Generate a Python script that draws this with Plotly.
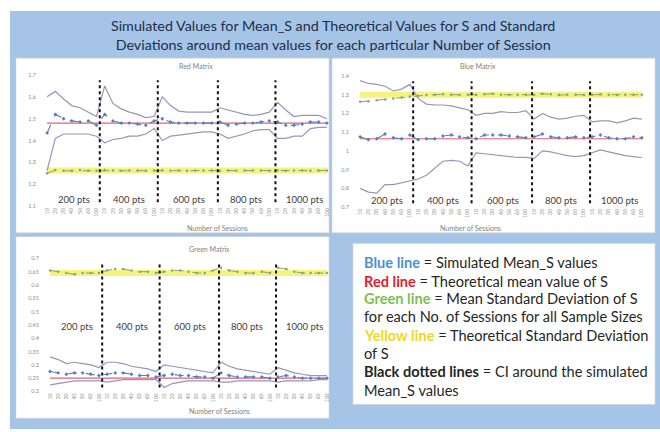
import plotly.graph_objects as go

W, H = 660, 432

# ---------------- data ----------------
session_labels = ["10", "20", "30", "40", "50", "60", "100"]
group_labels = ["200 pts", "400 pts", "600 pts", "800 pts", "1000 pts"]
tick_labels = session_labels * 5
x_idx = list(range(len(tick_labels)))

# Red matrix
red_mean = [1.435, 1.52, 1.50, 1.49, 1.485, 1.49, 1.47,
            1.52, 1.49, 1.48, 1.48, 1.475, 1.47, 1.49,
            1.50, 1.485, 1.48, 1.48, 1.48, 1.48, 1.48,
            1.485, 1.47, 1.475, 1.48, 1.48, 1.485, 1.49,
            1.485, 1.47, 1.47, 1.475, 1.485, 1.485, 1.48]
red_upper = [1.60, 1.625, 1.59, 1.56, 1.55, 1.53, 1.51,
             1.65, 1.57, 1.545, 1.53, 1.52, 1.505, 1.51,
             1.60, 1.56, 1.535, 1.53, 1.53, 1.53, 1.53,
             1.55, 1.54, 1.53, 1.52, 1.515, 1.52, 1.53,
             1.575, 1.54, 1.51, 1.515, 1.515, 1.515, 1.50]
red_lower = [1.263, 1.41, 1.43, 1.43, 1.43, 1.43, 1.42,
             1.39, 1.405, 1.41, 1.42, 1.42, 1.43, 1.455,
             1.40, 1.42, 1.425, 1.43, 1.435, 1.44, 1.44,
             1.43, 1.41, 1.42, 1.43, 1.445, 1.45, 1.45,
             1.41, 1.41, 1.42, 1.42, 1.455, 1.46, 1.46]
red_sd = [1.25, 1.265, 1.262, 1.262, 1.265, 1.262, 1.262,
          1.265, 1.263, 1.262, 1.263, 1.263, 1.262, 1.263,
          1.264, 1.262, 1.263, 1.262, 1.263, 1.263, 1.263,
          1.262, 1.263, 1.262, 1.263, 1.263, 1.263, 1.262,
          1.264, 1.262, 1.263, 1.263, 1.262, 1.263, 1.263]
red_theo_mean = 1.48
red_theo_sd = 1.263

# Blue matrix
blue_mean = [1.075, 1.06, 1.065, 1.09, 1.07, 1.065, 1.085,
             1.06, 1.065, 1.065, 1.08, 1.085, 1.075, 1.07,
             1.065, 1.085, 1.085, 1.085, 1.08, 1.075, 1.07,
             1.075, 1.09, 1.075, 1.07, 1.07, 1.075, 1.07,
             1.075, 1.085, 1.07, 1.065, 1.065, 1.075, 1.07]
blue_upper = [1.375, 1.36, 1.355, 1.345, 1.32, 1.33, 1.355,
              1.28, 1.25, 1.245, 1.245, 1.24, 1.23, 1.22,
              1.19, 1.20, 1.20, 1.21, 1.205, 1.205, 1.215,
              1.17, 1.20, 1.18, 1.17, 1.175, 1.185, 1.19,
              1.155, 1.16, 1.16, 1.15, 1.16, 1.175, 1.17]
blue_lower = [0.80, 0.78, 0.775, 0.82, 0.82, 0.83, 0.84,
              0.85, 0.87, 0.91, 0.945, 0.95, 0.945, 0.92,
              0.99, 0.985, 0.98, 0.975, 0.97, 0.965, 0.965,
              0.96, 1.00, 0.995, 0.985, 0.975, 0.97, 0.975,
              0.99, 1.005, 0.995, 0.985, 0.975, 0.97, 0.965]
blue_sd = [1.262, 1.265, 1.27, 1.275, 1.28, 1.285, 1.29,
           1.295, 1.298, 1.30, 1.302, 1.30, 1.298, 1.30,
           1.30, 1.302, 1.305, 1.30, 1.298, 1.30, 1.30,
           1.298, 1.305, 1.302, 1.298, 1.30, 1.30, 1.298,
           1.30, 1.302, 1.30, 1.298, 1.30, 1.30, 1.30]
blue_theo_mean = 1.065
blue_theo_sd = 1.30

# Green matrix
green_mean = [0.275, 0.27, 0.265, 0.27, 0.27, 0.265, 0.26,
              0.265, 0.27, 0.27, 0.265, 0.26, 0.26, 0.255,
              0.26, 0.265, 0.26, 0.26, 0.255, 0.255, 0.25,
              0.27, 0.26, 0.255, 0.255, 0.255, 0.255, 0.25,
              0.255, 0.26, 0.255, 0.25, 0.25, 0.25, 0.25]
green_upper = [0.33, 0.32, 0.305, 0.31, 0.305, 0.30, 0.29,
               0.31, 0.31, 0.305, 0.295, 0.29, 0.285, 0.275,
               0.30, 0.295, 0.29, 0.285, 0.28, 0.275, 0.27,
               0.31, 0.295, 0.285, 0.28, 0.275, 0.27, 0.265,
               0.29, 0.28, 0.27, 0.265, 0.26, 0.26, 0.26]
green_lower = [0.225, 0.23, 0.235, 0.24, 0.24, 0.24, 0.24,
               0.235, 0.24, 0.245, 0.245, 0.245, 0.245, 0.245,
               0.215, 0.23, 0.235, 0.24, 0.24, 0.24, 0.24,
               0.235, 0.235, 0.24, 0.24, 0.24, 0.24, 0.24,
               0.235, 0.24, 0.24, 0.24, 0.24, 0.245, 0.245]
green_sd = [0.655, 0.65, 0.645, 0.64, 0.645, 0.645, 0.645,
            0.655, 0.66, 0.66, 0.655, 0.65, 0.65, 0.645,
            0.65, 0.655, 0.655, 0.65, 0.645, 0.645, 0.655,
            0.665, 0.655, 0.65, 0.645, 0.645, 0.65, 0.645,
            0.665, 0.66, 0.65, 0.645, 0.645, 0.645, 0.645]
green_theo_mean = 0.25
green_theo_sd = 0.645

# ---------------- styling ----------------
FONT = "Lato"
C_FRAME = "#a6c5e6"
C_CI = "#9a94b8"
C_MEAN = "#5b7fb8"
C_THEO_MEAN = "#e0607e"
C_SD = "#8ea07a"
C_YELLOW = "rgba(238,238,70,0.7)"


def fx(px):
    return px / W


def fy(py):
    return 1 - py / H


panels = [
    dict(title="Red Matrix", mean=red_mean, upper=red_upper, lower=red_lower, sd=red_sd,
         tm=red_theo_mean, tsd=red_theo_sd, ax="", xd=(43, 331), yd=(73, 206),
         yr=(1.1, 1.7), dt=0.1, tpos=(177, 64), xtpos=(185, 228), lab_y=1.13),
    dict(title="Blue Matrix", mean=blue_mean, upper=blue_upper, lower=blue_lower, sd=blue_sd,
         tm=blue_theo_mean, tsd=blue_theo_sd, ax="2", xd=(356, 646), yd=(74, 207),
         yr=(0.7, 1.4), dt=0.1, tpos=(498, 64), xtpos=(503, 228), lab_y=0.735),
    dict(title="Green Matrix", mean=green_mean, upper=green_upper, lower=green_lower, sd=green_sd,
         tm=green_theo_mean, tsd=green_theo_sd, ax="3", xd=(46, 331), yd=(259, 394),
         yr=(0.2, 0.7), dt=0.05, tpos=(187, 249), xtpos=(187, 414), lab_y=0.445),
]

separator_x = [6.4, 13.45, 20.75, 27.75]
label_x = [3.3, 10.0, 17.2, 24.2, 31.3]

fig = go.Figure()
shapes = []
annotations = []

# background frame and panels
shapes.append(dict(type="rect", xref="paper", yref="paper", x0=fx(10), x1=fx(660),
                   y0=fy(432), y1=fy(8), fillcolor=C_FRAME, line=dict(width=0), layer="below"))
for (x0, x1, y0, y1) in [(16, 329, 56, 233), (332, 655, 56, 233), (16, 329, 237, 421),
                         (353, 655, 244, 407)]:
    shapes.append(dict(type="rect", xref="paper", yref="paper", x0=fx(x0), x1=fx(x1),
                       y0=fy(y1), y1=fy(y0), fillcolor="white",
                       line=dict(width=0.6, color="#d9d9d9"), layer="below"))

layout_axes = {}
for p in panels:
    xa = "x" + p["ax"]
    ya = "y" + p["ax"]
    n = len(x_idx)
    fig.add_trace(go.Scatter(x=x_idx, y=[p["tsd"]] * n, mode="lines", xaxis=xa, yaxis=ya,
                             line=dict(color=C_YELLOW, width=6), showlegend=False,
                             name="Theoretical SD"))
    fig.add_trace(go.Scatter(x=x_idx, y=p["upper"], mode="lines", xaxis=xa, yaxis=ya,
                             line=dict(color=C_CI, width=1.2), showlegend=False, name="Upper CI"))
    fig.add_trace(go.Scatter(x=x_idx, y=p["lower"], mode="lines", xaxis=xa, yaxis=ya,
                             line=dict(color=C_CI, width=1.2), showlegend=False, name="Lower CI"))
    fig.add_trace(go.Scatter(x=x_idx, y=[p["tm"]] * n, mode="lines", xaxis=xa, yaxis=ya,
                             line=dict(color=C_THEO_MEAN, width=1.2), showlegend=False,
                             name="Theoretical mean"))
    fig.add_trace(go.Scatter(x=x_idx, y=p["sd"], mode="lines+markers", xaxis=xa, yaxis=ya,
                             line=dict(color=C_SD, width=1, dash="dash"),
                             marker=dict(size=2.5, color=C_SD), showlegend=False,
                             name="Mean SD"))
    fig.add_trace(go.Scatter(x=x_idx, y=p["mean"], mode="lines+markers", xaxis=xa, yaxis=ya,
                             line=dict(color=C_MEAN, width=1.1, dash="dash"),
                             marker=dict(size=3, color=C_MEAN, symbol="diamond"),
                             showlegend=False, name="Simulated mean"))

    layout_axes["xaxis" + p["ax"]] = dict(
        domain=[fx(p["xd"][0]), fx(p["xd"][1])], range=[-0.5, 34.5], anchor=ya,
        tickvals=x_idx, ticktext=tick_labels, tickangle=-90,
        tickfont=dict(size=5, color="#8c8c8c", family=FONT),
        showgrid=False, zeroline=False, showline=False, ticks="")
    layout_axes["yaxis" + p["ax"]] = dict(
        domain=[fy(p["yd"][1]), fy(p["yd"][0])], range=list(p["yr"]), anchor=xa,
        dtick=p["dt"], tick0=0, tickfont=dict(size=5.5, color="#8c8c8c", family=FONT),
        showgrid=False, zeroline=False, showline=False, ticks="", ticklabelstandoff=6)

    for sx in separator_x:
        shapes.append(dict(type="line", xref=xa, yref=ya + " domain", x0=sx, x1=sx,
                           y0=0.03, y1=0.96, line=dict(color="#111111", width=2, dash="dot")))
    for gx, gl in zip(label_x, group_labels):
        annotations.append(dict(x=gx, y=p["lab_y"], xref=xa, yref=ya, text=gl,
                                showarrow=False, font=dict(size=9.5, color="#404040",
                                                           family=FONT)))
    annotations.append(dict(x=fx(p["tpos"][0]), y=fy(p["tpos"][1]), xref="paper",
                            yref="paper", text=p["title"], showarrow=False, yanchor="middle",
                            font=dict(size=7, color="#7f7f7f", family=FONT)))
    annotations.append(dict(x=fx(p["xtpos"][0]), y=fy(p["xtpos"][1]), xref="paper",
                            yref="paper", text="Number of Sessions", showarrow=False,
                            yanchor="middle", font=dict(size=7, color="#7f7f7f", family=FONT)))

# main title
annotations.append(dict(x=fx(333), y=fy(32), xref="paper", yref="paper", yanchor="middle",
                        text="Simulated Values for Mean_S and Theoretical Values for S and Standard"
                             "<br>Deviations around mean values for each particular Number of Session",
                        showarrow=False, font=dict(size=14.3, color="#1f2d4a", family=FONT)))

# explanatory text box
legend_lines = [
    "<b><span style='color:#4f8fd6'>Blue line</span></b> = Simulated Mean_S values",
    "<b><span style='color:#e02030'>Red line</span></b> = Theoretical mean value of S",
    "<b><span style='color:#7cc050'>Green line</span></b> = Mean Standard Deviation of S",
    "for each No. of Sessions for all Sample Sizes",
    "<b><span style='color:#f0d820'>Yellow line</span></b> = Theoretical Standard Deviation",
    "of S",
    "<b>Black dotted lines</b> = CI around the simulated",
    "Mean_S values",
]
line_y = [263, 282, 300, 318, 337, 355, 374, 393]
for txt, ly in zip(legend_lines, line_y):
    annotations.append(dict(x=fx(362), y=fy(ly), xref="paper", yref="paper", text=txt,
                            xanchor="left", yanchor="middle", showarrow=False,
                            font=dict(size=14.6, color="#262626", family=FONT)))

fig.update_layout(
    width=W, height=H, margin=dict(l=0, r=0, t=0, b=0),
    paper_bgcolor="white", plot_bgcolor="rgba(0,0,0,0)",
    shapes=shapes, annotations=annotations, showlegend=False,
    **layout_axes,
)

fig.write_html("out.html", config={"displayModeBar": False},
               post_script="document.body.style.margin='0';")
